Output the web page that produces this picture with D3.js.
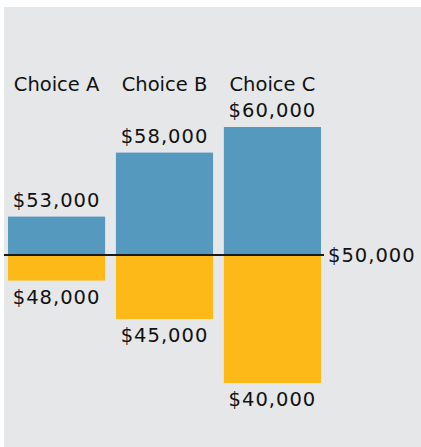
<!DOCTYPE html>
<html>
<head>
<meta charset="utf-8">
<script src="https://cdn.jsdelivr.net/npm/d3@7"></script>
<style>
  body { margin: 0; background: #fff; }
  text { font-family: "DejaVu Sans", sans-serif; fill: #111; font-size: 19.5px; }
  .num { letter-spacing: 1px; }
</style>
</head>
<body>
<div class="chart"></div>
<script>
// data
let choices = ['Choice A', 'Choice B', 'Choice C']
let highValues = [53000, 58000, 60000]
let lowValues = [48000, 45000, 40000]
let baseValue = 50000

let svgWidth = 421
let svgHeight = 447

let svg = d3.select('.chart')
    .append('svg')
    .attr('width', svgWidth)
    .attr('height', svgHeight)

// gray panel
svg.append('rect')
    .attr('x', 4)
    .attr('y', 7)
    .attr('width', svgWidth - 4)
    .attr('height', svgHeight - 7)
    .attr('fill', '#e6e7e9')

let xScale = d3.scaleBand()
    .domain(choices)
    .range([8, 321])
    .paddingInner(0.1)

let yScale = d3.scaleLinear()
    .domain([40000, 60000])
    .range([383, 127])

let fmt = d => '$' + d3.format(',')(d)

let rows = choices.map((c, i) => ({choice: c, high: highValues[i], low: lowValues[i]}))

// blue bars above the base value
svg.selectAll('.high')
    .data(rows)
    .join('rect')
    .attr('class', 'high')
    .attr('x', d => xScale(d.choice))
    .attr('width', xScale.bandwidth())
    .attr('y', d => yScale(d.high))
    .attr('height', d => yScale(baseValue) - yScale(d.high))
    .attr('fill', '#5599be')

// yellow bars below
svg.selectAll('.low')
    .data(rows)
    .join('rect')
    .attr('class', 'low')
    .attr('x', d => xScale(d.choice))
    .attr('width', xScale.bandwidth())
    .attr('y', yScale(baseValue))
    .attr('height', d => yScale(d.low) - yScale(baseValue))
    .attr('fill', '#fcb918')

// base line
svg.append('line')
    .attr('x1', 4)
    .attr('x2', 324)
    .attr('y1', yScale(baseValue))
    .attr('y2', yScale(baseValue))
    .attr('stroke', '#1a1a1a')
    .attr('stroke-width', 2)

svg.append('text')
    .attr('class', 'num')
    .attr('x', 328)
    .attr('y', yScale(baseValue))
    .attr('dy', '0.36em')
    .text(fmt(baseValue))

// category labels
svg.selectAll('.cat')
    .data(choices)
    .join('text')
    .attr('class', 'cat')
    .attr('x', d => xScale(d) + xScale.bandwidth() / 2)
    .attr('y', 91)
    .attr('text-anchor', 'middle')
    .text(d => d)

// value labels
svg.selectAll('.hlabel')
    .data(rows)
    .join('text')
    .attr('class', 'hlabel num')
    .attr('x', d => xScale(d.choice) + xScale.bandwidth() / 2)
    .attr('y', d => yScale(d.high) - 10)
    .attr('text-anchor', 'middle')
    .text(d => fmt(d.high))

svg.selectAll('.llabel')
    .data(rows)
    .join('text')
    .attr('class', 'llabel num')
    .attr('x', d => xScale(d.choice) + xScale.bandwidth() / 2)
    .attr('y', d => yScale(d.low) + 23)
    .attr('text-anchor', 'middle')
    .text(d => fmt(d.low))
</script>
</body>
</html>
